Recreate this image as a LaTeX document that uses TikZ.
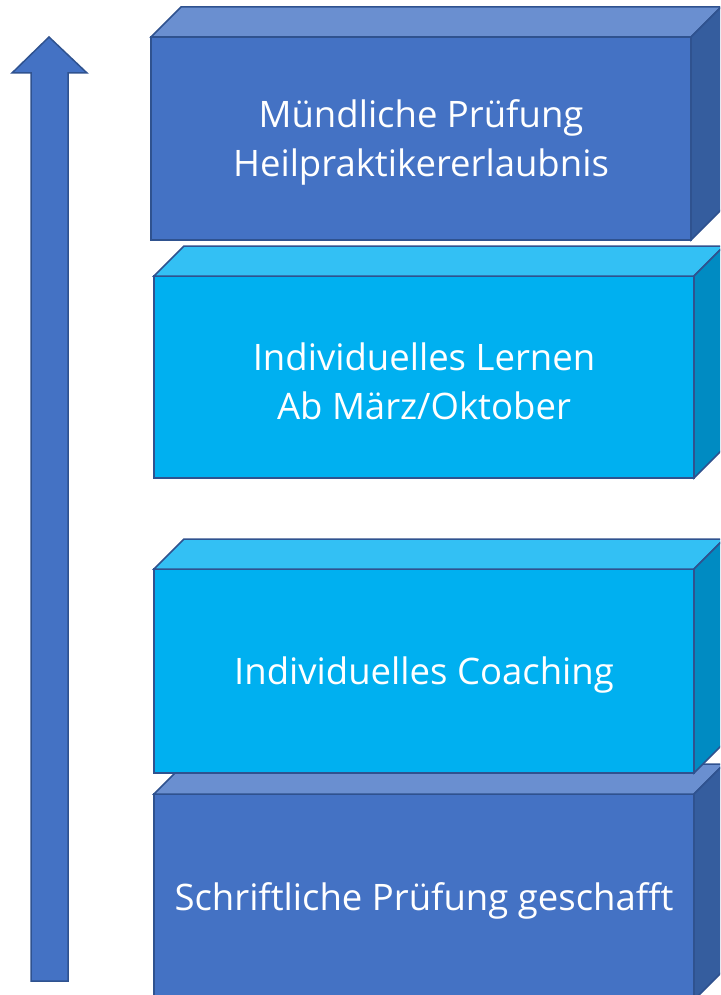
\documentclass[tikz,border=0pt]{standalone}
\usepackage{fontspec}
\setmainfont{Open Sans}
\definecolor{dfront}{HTML}{4472C4}
\definecolor{dtop}{HTML}{6A8FD0}
\definecolor{dside}{HTML}{355D9E}
\definecolor{cfront}{HTML}{00B0F0}
\definecolor{ctop}{HTML}{33C0F4}
\definecolor{cside}{HTML}{008BC2}
\definecolor{edge}{HTML}{2F528F}
\tikzset{
  face/.style={draw=edge, line width=1.5pt, line join=miter},
  frontbox/.style={face, outer sep=0pt, inner sep=0pt, minimum width=540pt},
  boxtext/.style={text=white, align=center, inner sep=0pt,
    font=\fontsize{36.5}{49}\selectfont},
}
\newcommand{\cube}[3]{% name, topcol, sidecol
  \draw[face, fill=#2] (#1.north west) -- ++(30,-30) -- ([xshift=30pt,yshift=30pt]#1.north east) -- (#1.north east) -- cycle;
  \draw[face, fill=#3] (#1.north east) -- ++(30,-30) -- ([xshift=30pt,yshift=30pt]#1.south east) -- (#1.south east) -- cycle;
}
\begin{document}
\begin{tikzpicture}[x=1pt,y=-1pt]
\useasboundingbox (0,0) rectangle (720,995);
\clip (0,0) rectangle (720,995);
% arrow
\draw[face, fill=dfront] (31,981) -- (31,73) -- (12,73) -- (49,37) -- (87,73) -- (68,73) -- (68,981) -- cycle;
% block 4
\node[frontbox, fill=dfront, minimum height=206pt] (b4) at (424,897) {};
\cube{b4}{dtop}{dside}
\node[boxtext] (t4) at ([yshift=-4pt]b4.center) {Schriftliche Prüfung geschafft};
% block 3
\node[frontbox, fill=cfront, minimum height=204pt] (b3) at (424,671) {};
\cube{b3}{ctop}{cside}
\node[boxtext] (t3) at ([yshift=-4pt]b3.center) {Individuelles Coaching};
% block 2
\node[frontbox, fill=cfront, minimum height=202pt] (b2) at (424,377) {};
\cube{b2}{ctop}{cside}
\node[boxtext] (t2) at ([yshift=-4pt]b2.center) {Individuelles Lernen\\Ab März/Oktober};
% block 1
\node[frontbox, fill=dfront, minimum height=203pt] (b1) at (421,138.5) {};
\cube{b1}{dtop}{dside}
\node[boxtext] (t1) at ([yshift=-4pt]b1.center) {Mündliche Prüfung\\Heilpraktikererlaubnis};
\end{tikzpicture}
\end{document}
